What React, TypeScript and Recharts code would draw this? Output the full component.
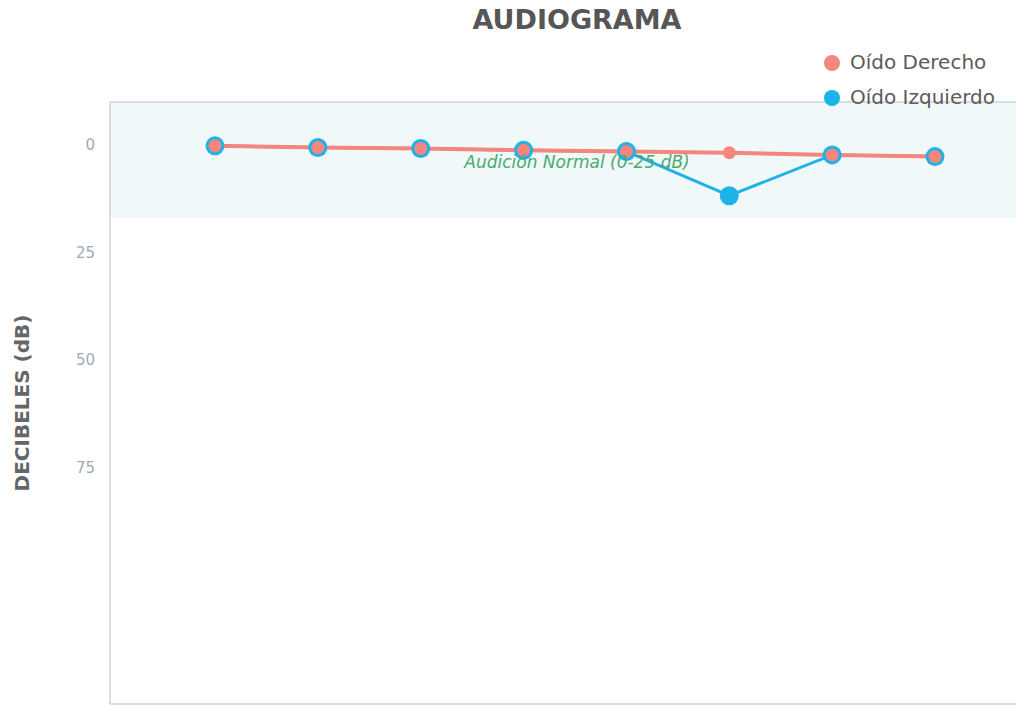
import React from "react";
import {
  LineChart,
  Line,
  XAxis,
  YAxis,
  ReferenceArea,
  ReferenceLine,
} from "recharts";

const frequencies = ["250", "500", "1000", "2000", "3000", "4000", "6000", "8000"];
const rightEar = [0.2, 0.6, 0.8, 1.2, 1.5, 1.8, 2.3, 2.7];
const leftEar = [0.2, 0.6, 0.8, 1.2, 1.5, 11.8, 2.3, 2.7];
const yTicks = [0, 25, 50, 75];
const yDomain = [-10, 130];
const normalBand = [-10, 17];
const normalLabelLevel = 4;

const RED = "#f4867e";
const BLUE = "#1cb2ea";
const BORDER = "#c9d4dc";

const series = [
  { key: "derecho", name: "Oído Derecho", color: RED },
  { key: "izquierdo", name: "Oído Izquierdo", color: BLUE },
];

const data = frequencies.map((f, i) => ({
  freq: f,
  derecho: rightEar[i],
  izquierdo: leftEar[i],
}));

const FONT = "'DejaVu Sans', sans-serif";

const LegendBox = () => (
  <div
    style={{
      position: "absolute",
      top: 37,
      left: 815,
      width: 200,
      fontFamily: FONT,
      zIndex: 2,
    }}
  >
    {series.map((s) => (
      <div
        key={s.key}
        style={{ display: "flex", alignItems: "center", height: 35, lineHeight: "35px" }}
      >
        <svg width={18} height={18} style={{ marginRight: 9 }}>
          <circle cx={9} cy={9} r={8} fill={s.color} />
        </svg>
        <span style={{ fontSize: 20, color: "#5b5b5b" }}>{s.name}</span>
      </div>
    ))}
  </div>
);

export default function App() {
  return (
    <div style={{ position: "relative", width: 1016, height: 697 }}>
      <style>{"html,body{overflow:hidden}"}</style>
      <div
        style={{
          position: "absolute",
          top: -2,
          left: 369,
          width: 400,
          textAlign: "center",
          fontFamily: FONT,
          fontWeight: "bold",
          fontSize: 27,
          lineHeight: "27px",
          color: "#565656",
          zIndex: 2,
        }}
      >
        AUDIOGRAMA
      </div>
      <LegendBox />
      <LineChart
        width={1016}
        height={697}
        data={data}
        margin={{ top: 94, right: 0, bottom: 0, left: 0 }}
      >
        <XAxis
          xAxisId="band"
          type="number"
          dataKey="bandX"
          domain={[0, 1]}
          hide
          allowDataOverflow
        />
        <ReferenceArea
          xAxisId="band"
          x1={0}
          x2={1}
          y1={normalBand[0]}
          y2={normalBand[1]}
          fill="#f1f8f9"
          fillOpacity={1}
          stroke="none"
          ifOverflow="hidden"
        />
        <ReferenceLine y={yDomain[0]} stroke={BORDER} strokeWidth={1.5} />
        <ReferenceLine
          y={normalLabelLevel}
          stroke="none"
          label={{
            value: "Audición Normal (0-25 dB)",
            position: "center",
            dx: 10,
            fill: "#46ab6c",
            fontSize: 17,
            fontStyle: "italic",
            fontFamily: FONT,
          }}
        />
        <XAxis
          dataKey="freq"
          type="category"
          padding={{ left: 105, right: 89 }}
          tick={false}
          tickLine={false}
          height={1}
          axisLine={{ stroke: BORDER, strokeWidth: 1.5 }}
        />
        <YAxis
          reversed
          type="number"
          domain={yDomain}
          ticks={yTicks}
          allowDataOverflow
          width={102}
          tickLine={false}
          tickSize={0}
          tickMargin={15}
          axisLine={{ stroke: BORDER, strokeWidth: 1.5 }}
          tick={{ fill: "#9eabb6", fontSize: 15, fontFamily: FONT }}
          label={{
            value: "DECIBELES (dB)",
            angle: -90,
            position: "insideLeft",
            offset: 14,
            style: {
              textAnchor: "middle",
              fontFamily: FONT,
              fontWeight: "bold",
              fontSize: 20,
              fill: "#666666",
            },
          }}
        />
        <Line
          type="linear"
          dataKey="izquierdo"
          name="Oído Izquierdo"
          stroke={BLUE}
          strokeWidth={3}
          dot={{ r: 9.5, fill: BLUE, stroke: "none" }}
          activeDot={false}
          isAnimationActive={false}
        />
        <Line
          type="linear"
          dataKey="derecho"
          name="Oído Derecho"
          stroke={RED}
          strokeWidth={4}
          dot={{ r: 6.5, fill: RED, stroke: "none" }}
          activeDot={false}
          isAnimationActive={false}
        />
      </LineChart>
    </div>
  );
}
